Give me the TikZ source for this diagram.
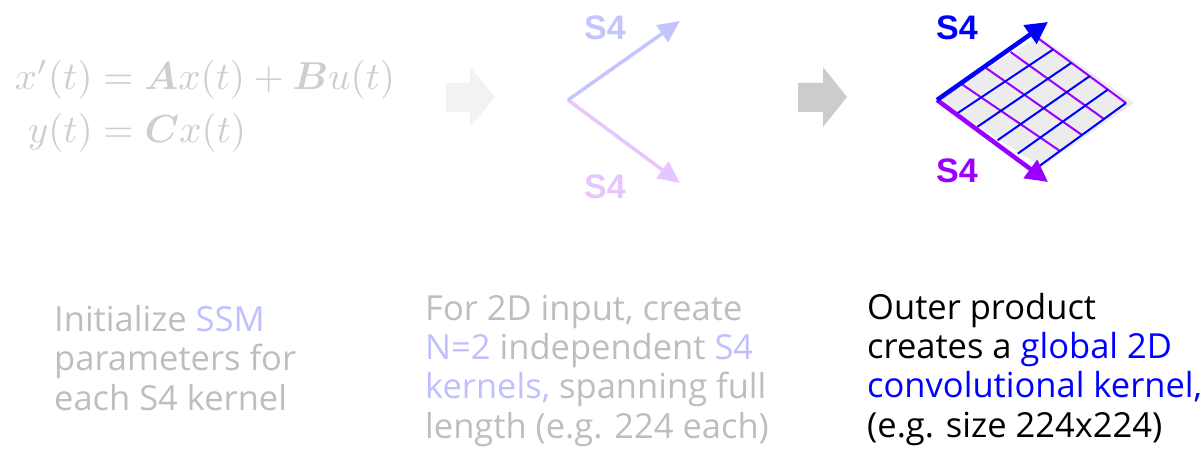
\documentclass[tikz,border=0pt]{standalone}
\usepackage{amsmath}
\usepackage{fontspec}
\newfontfamily\labelfont{Liberation Sans}
\newfontfamily\bodyfont{Open Sans}
\usetikzlibrary{arrows.meta,calc}
\definecolor{eqgray}{RGB}{206,206,206}
\definecolor{txtgray}{RGB}{190,190,190}
\definecolor{lightblue}{RGB}{192,192,255}
\definecolor{arrowblue}{RGB}{196,196,255}
\definecolor{arrowlilac}{RGB}{230,198,255}
\definecolor{kblue}{RGB}{0,0,255}
\definecolor{kpurple}{RGB}{153,0,255}
\definecolor{gridfill}{RGB}{236,236,236}
\definecolor{blockpale}{RGB}{242,242,242}
\definecolor{blockgray}{RGB}{204,204,204}
\tikzset{
  s4label/.style={font=\labelfont\bfseries\fontsize{34}{40}\selectfont, inner sep=0pt},
  bodytext/.style={font=\bodyfont\fontsize{34.5}{39.3}\selectfont, align=left, inner sep=0pt, anchor=base west},
  thinarrow/.style={line width=3.5pt, -{Triangle[length=22pt,width=20pt]}},
  thickarrow/.style={line width=4.5pt, -{Triangle[length=22pt,width=22pt]}},
  gridline/.style={line width=2pt},
}
\begin{document}
\begin{tikzpicture}[x=1pt,y=-1pt]
\useasboundingbox (0,0) rectangle (1203,449);
% equation
\node[anchor=base west, text=eqgray, scale=3.9, inner sep=0pt] (eq1) at (14,90) {$x'(t) = \boldsymbol{A}x(t) + \boldsymbol{B}u(t)$};
\node[anchor=base west, text=eqgray, scale=3.9, inner sep=0pt] (eq2) at (27,143) {$y(t) = \boldsymbol{C}x(t)$};
% block arrows
\fill[blockpale] (446,83) -- (470,83) -- (470,67) -- (495,97) -- (470,127) -- (470,112) -- (446,112) -- cycle;
\fill[blockgray] (798,83) -- (823,83) -- (823,67) -- (847,97) -- (823,127) -- (823,112) -- (798,112) -- cycle;
% middle: two S4 kernels
\coordinate (mv) at (568,100);
\coordinate (mtop) at (680,21);
\coordinate (mbot) at (680,183);
\draw[thinarrow, arrowlilac] (mv) -- (mbot);
\draw[thinarrow, arrowblue] (mv) -- (mtop);
\node[s4label, text=arrowblue] (ms4a) at (605,28) {S4};
\node[s4label, text=arrowlilac] (ms4b) at (605,187) {S4};
% right: outer product grid
\coordinate (L) at (937,100);
\coordinate (T) at (1035,36);
\coordinate (R) at (1126,103);
\coordinate (B) at (1038,167);
\fill[gridfill] (L) -- ($(T)+(4,0)$) -- ($(R)+(8,0)$) -- ($(B)+(4,0)$) -- cycle;
\foreach \i in {1,2,3,4} {
  \draw[gridline, kpurple] ($(L)!\i/4!(T)$) -- ($(B)!\i/4!(R)$);
}
\foreach \j in {1,2,3,4,5} {
  \draw[gridline, kblue] ($(L)!\j/5!(B)$) -- ($(T)!\j/5!(R)$);
}
\coordinate (rtop) at (1048,22);
\coordinate (rbot) at (1048,182);
\draw[thickarrow, kpurple] (L) -- (rbot);
\draw[thickarrow, kblue] (L) -- (rtop);
\node[s4label, text=kblue] (rs4a) at (957,28) {S4};
\node[s4label, text=kpurple] (rs4b) at (957,171) {S4};
% captions (base anchor = baseline of the last line)
\node[bodytext, text=txtgray] (cap1) at (54,410) {Initialize \textcolor{lightblue}{SSM}\\parameters for\\each S4 kernel};
\node[bodytext, text=txtgray] (cap2) at (425,438) {For 2D input, create\\\textcolor{lightblue}{N=2} independent \textcolor{lightblue}{S4}\\\textcolor{lightblue}{kernels,} spanning full\\length (e.g. 224 each)};
\node[bodytext, text=black] (cap3) at (867,437) {Outer product\\creates a \textcolor{kblue}{global 2D}\\\textcolor{kblue}{convolutional kernel,}\\(e.g. size 224x224)};
\end{tikzpicture}
\end{document}
